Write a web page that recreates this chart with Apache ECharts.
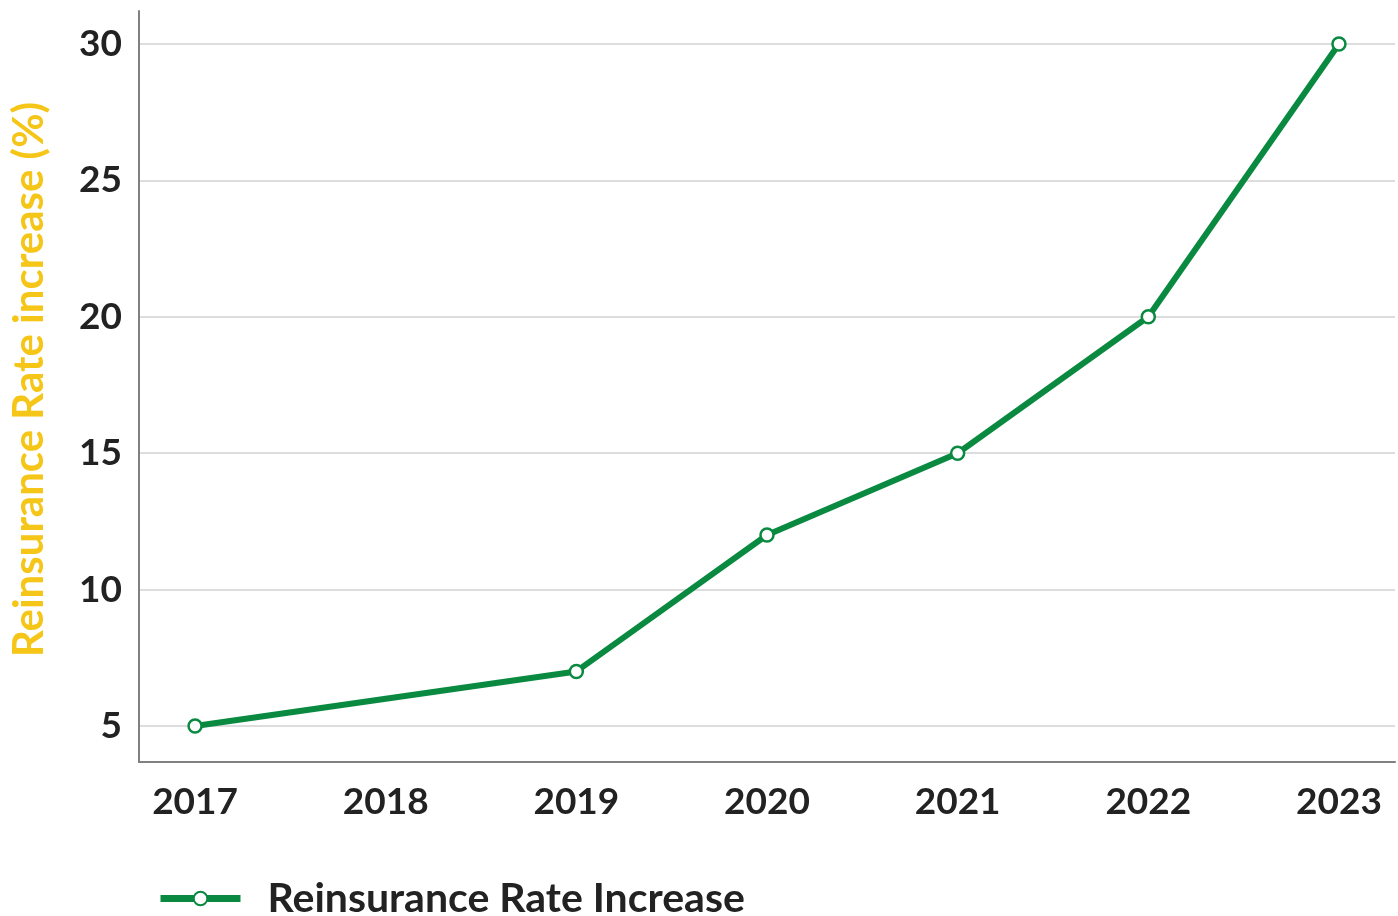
<!DOCTYPE html>
<html>
<head>
<meta charset="utf-8">
<script src="https://cdn.jsdelivr.net/npm/echarts@6/dist/echarts.min.js"></script>
<style>
html,body{margin:0;padding:0;background:#fff;}
#chart{width:1398px;height:916px;}
</style>
</head>
<body>
<div id="chart"></div>
<script>
const years = [2017, 2018, 2019, 2020, 2021, 2022, 2023];
const rateIncrease = [5, null, 7, 12, 15, 20, 30];
const yTicks = [5, 10, 15, 20, 25, 30];
const seriesName = 'Reinsurance Rate Increase';
const yAxisName = 'Reinsurance Rate increase (%)';

const chart = echarts.init(document.getElementById('chart'));
const green = '#0a8a40';
chart.setOption({
  backgroundColor: '#ffffff',
  animation: false,
  grid: { left: 139, right: 3, top: 11, bottom: 154, containLabel: false, outerBoundsMode: 'none' },
  xAxis: {
    type: 'value',
    min: 2016.706,
    max: 2023.294,
    axisLine: { show: true, lineStyle: { color: '#808080', width: 2 } },
    axisTick: { show: false, customValues: years },
    splitLine: { show: false },
    axisLabel: {
      customValues: years,
      formatter: v => String(v),
      color: '#222222',
      fontFamily: 'Lato',
      fontWeight: 'bold',
      fontSize: 37,
      margin: 22
    }
  },
  yAxis: {
    type: 'value',
    min: 3.68,
    max: 31.21,
    name: yAxisName,
    nameLocation: 'middle',
    nameGap: 89,
    nameRotate: 90,
    nameTextStyle: { color: '#f5c518', fontFamily: 'Lato', fontSize: 42, fontWeight: 'bold', padding: [0, 0, 0, 14] },
    axisLine: { show: true, lineStyle: { color: '#808080', width: 2 } },
    axisTick: { show: false, customValues: yTicks },
    splitLine: { show: true, lineStyle: { color: '#dddddd', width: 2 } },
    axisLabel: {
      customValues: yTicks,
      color: '#222222',
      fontFamily: 'Lato',
      fontWeight: 'bold',
      fontSize: 37,
      margin: 17
    }
  },
  legend: {
    show: true,
    left: 152,
    bottom: -8,
    itemWidth: 80,
    itemHeight: 17,
    lineStyle: { width: 7 },
    textStyle: { color: '#222222', fontFamily: 'Lato', fontWeight: 'bold', fontSize: 41, padding: [0, 0, 0, 22] },
    data: [seriesName]
  },
  series: [{
    name: seriesName,
    type: 'line',
    data: years.map((y, i) => [y, rateIncrease[i]]).filter(p => p[1] !== null),
    connectNulls: true,
    symbol: 'circle',
    symbolSize: 13,
    showSymbol: true,
    lineStyle: { color: green, width: 6 },
    itemStyle: { color: '#ffffff', borderColor: green, borderWidth: 2.5 },
    label: { show: false }
  }]
});
</script>
</body>
</html>
